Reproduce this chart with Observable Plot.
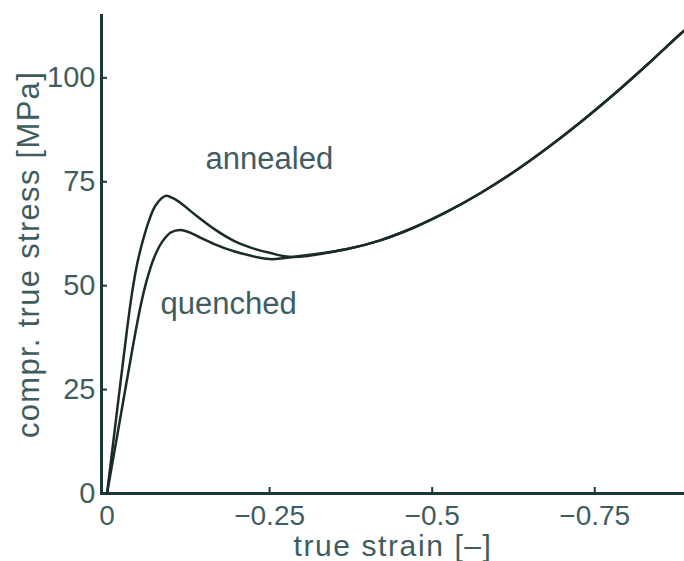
<!DOCTYPE html>
<html>
<head>
<meta charset="utf-8">
<script src="https://cdn.jsdelivr.net/npm/d3@7"></script>
<script src="https://cdn.jsdelivr.net/npm/@observablehq/plot@0.6"></script>
<style>
  html, body { margin: 0; padding: 0; background: #fff; }
</style>
</head>
<body>
<div id="chart"></div>
<script>
const annealedStrain = [0, -0.0142, -0.030, -0.038, -0.046, -0.054, -0.064, -0.0746, -0.09, -0.102, -0.1157, -0.136, -0.165, -0.195, -0.22, -0.25];
const annealedStress = [0, 18.3, 38.5, 47.8, 55.0, 60.2, 65.4, 69.3, 71.6, 71.0, 69.6, 67.0, 63.6, 60.8, 59.2, 57.9];
const quenchedStrain = [0, -0.02, -0.04, -0.052, -0.062, -0.0725, -0.085, -0.098, -0.113, -0.13, -0.144, -0.165, -0.195, -0.25];
const quenchedStress = [0, 17.8, 35.6, 45.4, 51.8, 56.8, 60.6, 62.8, 63.4, 62.6, 61.5, 60.0, 58.3, 56.4];
const sharedStrain = [-0.285, -0.3695, -0.42, -0.472, -0.523, -0.5746, -0.626, -0.677, -0.728, -0.78, -0.831, -0.882, -0.888];
const sharedStress = [56.9, 58.8, 60.9, 64.0, 67.8, 72.3, 77.4, 83.1, 89.3, 96.1, 103.2, 110.6, 111.4];

const xTicks = [0, -0.25, -0.5, -0.75];
const xTickLabels = ["0", "\u22120.25", "\u22120.5", "\u22120.75"];
const yTicks = [0, 25, 50, 75, 100];
const yTickLabels = ["0", "25", "50", "75", "100"];
const seriesNames = ["annealed", "quenched"];
const labelStrain = [-0.1515, -0.0823];
const labelStress = [78.1, 43.3];
const xTitle = "true strain [\u2013]";
const yTitle = "compr. true stress [MPa]";

const zip = (xs, ys, s) => xs.map((x, i) => ({strain: x, stress: ys[i], series: s}));
const annealed = zip(annealedStrain, annealedStress, "annealed").concat(zip(sharedStrain, sharedStress, "annealed"));
const quenched = zip(quenchedStrain, quenchedStress, "quenched").concat(zip(sharedStrain, sharedStress, "quenched"));
const labels = seriesNames.map((n, i) => ({name: n, strain: labelStrain[i], stress: labelStress[i]}));

const axisColor = "#1d3838";
const textColor = "#3f5d5f";
const lineColor = "#1a2b2b";
const font = "'Liberation Sans', Arial, sans-serif";

const W = 684, H = 561, mL = 101, mR = 0, mT = 15, mB = 68;
const frameW = W - mL - mR, frameH = H - mT - mB;
const tickLen = 6;

const chart = Plot.plot({
  width: W,
  height: H,
  marginLeft: mL,
  marginRight: mR,
  marginTop: mT,
  marginBottom: mB,
  style: {fontFamily: font, fontSize: "29px", color: textColor, background: "#fff"},
  x: {domain: [0.0085, -0.888], axis: null},
  y: {domain: [0, 115], axis: null},
  marks: [
    Plot.ruleY(yTicks.filter(d => d !== 0), {y: d => d, insetRight: frameW - tickLen, stroke: axisColor, strokeWidth: 2}),
    Plot.ruleX(xTicks.filter(d => d !== 0), {x: d => d, insetTop: frameH - tickLen, stroke: axisColor, strokeWidth: 2}),
    Plot.text(yTicks, {y: d => d, frameAnchor: "left", textAnchor: "end", lineAnchor: "middle", dx: -6, text: (d, i) => yTickLabels[i], fill: textColor, fontSize: 29}),
    Plot.text(xTicks, {x: d => d, frameAnchor: "bottom", textAnchor: "middle", lineAnchor: "top", dy: 12, text: (d, i) => xTickLabels[i], fill: textColor, fontSize: 28}),
    Plot.frame({anchor: "left", stroke: axisColor, strokeWidth: 3}),
    Plot.frame({anchor: "bottom", stroke: axisColor, strokeWidth: 3}),
    Plot.line(annealed, {x: "strain", y: "stress", stroke: lineColor, strokeWidth: 2.5, curve: "catmull-rom"}),
    Plot.line(quenched, {x: "strain", y: "stress", stroke: lineColor, strokeWidth: 2.5, curve: "catmull-rom"}),
    Plot.text(labels, {x: "strain", y: "stress", text: "name", textAnchor: "start", lineAnchor: "bottom", fill: textColor, fontSize: 31}),
    Plot.text([xTitle], {frameAnchor: "bottom", textAnchor: "middle", dy: 62, lineAnchor: "bottom", fill: textColor, fontSize: 30}),
    Plot.text([yTitle], {frameAnchor: "left", textAnchor: "middle", dx: -72, rotate: -90, lineAnchor: "middle", fill: textColor, fontSize: 31})
  ]
});
d3.select(chart).selectAll("text").each(function() {
  const t = this.textContent;
  if (t === xTitle) d3.select(this).style("letter-spacing", "1.6px");
  if (t === yTitle) d3.select(this).style("letter-spacing", "1.3px");
});
document.getElementById("chart").appendChild(chart);
</script>
</body>
</html>
